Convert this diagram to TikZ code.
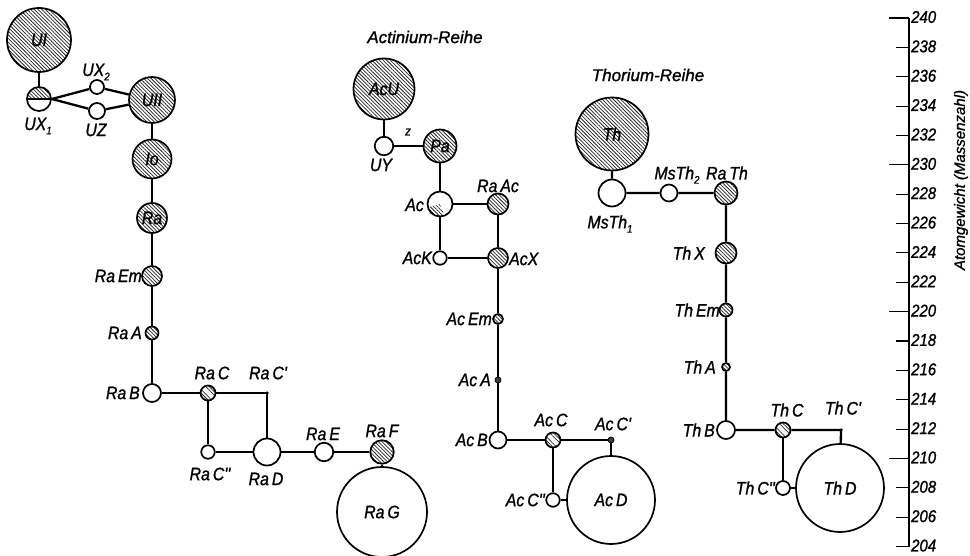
\documentclass[tikz,border=0pt]{standalone}
\usepackage{fontspec}
\newfontfamily\labfont[FakeBold=1.2,FakeStretch=0.88]{Liberation Sans}
\newfontfamily\ttlfont[FakeBold=1.2]{Liberation Sans}
\usetikzlibrary{patterns.meta}
\newcommand\mysub[1]{\raisebox{-0.45ex}{\fontsize{11}{11}\selectfont #1}}
\begin{document}
\begin{tikzpicture}[x=1pt,y=1pt,
  every node/.style={font=\labfont\itshape\fontsize{18}{18}\selectfont, inner sep=0pt},
  hatch/.style={pattern={Lines[angle=-45,distance=2.6pt,line width=0.75pt]}, pattern color=black!85},
  iso/.style={circle, draw, line width=1.7pt, fill=white, minimum size=#1, inner sep=0pt},
  hat/.style={iso=#1, path picture={\fill[hatch] ([shift={(-2,-2)}]path picture bounding box.south west) rectangle ([shift={(2,2)}]path picture bounding box.north east);}},
  stri/.style={iso=#1, path picture={\fill[hatch] ([shift={(-2,-2)}]path picture bounding box.south west) rectangle ([shift={(2,2)}]path picture bounding box.north east);
     \draw[white,line width=1.8pt] (path picture bounding box.north west) -- (path picture bounding box.south east);}},
  half/.style={iso=#1, path picture={\fill[hatch] ([shift={(-2,0)}]path picture bounding box.west) rectangle ([shift={(2,2)}]path picture bounding box.north east);
     \draw[line width=1.3pt] (path picture bounding box.west) -- (path picture bounding box.east);}},
  part/.style={iso=#1, path picture={\fill[hatch] (path picture bounding box.center) -- ++(195:15) arc[start angle=195,end angle=290,radius=15] -- cycle;}},
  dot/.style={circle, draw, line width=0.8pt, fill=black!75, minimum size=#1, inner sep=0pt},
  link/.style={line width=2.3pt},
  ttl/.style={font=\ttlfont\itshape\fontsize{17}{17}\selectfont},
  num/.style={font=\labfont\itshape\fontsize{17}{17}\selectfont, anchor=west}
]
\useasboundingbox (0,0) rectangle (970,-556);

% ---------------- Uran-Radium-Reihe ----------------
\node[hat=64] (UI) at (39,-40) {UI};
\node[half=24] (UX1) at (39,-99) {};
\node[iso=14] (UX2) at (97,-87) {};
\node[iso=16] (UZ) at (97,-111) {};
\node[hat=46] (UII) at (152,-100) {UII};
\node[hat=39] (Io) at (152,-159) {Io};
\node[hat=30] (Ra) at (152,-218) {Ra};
\node[hat=20] (RaEm) at (152,-276) {};
\node[hat=13] (RaA) at (152,-333) {};
\node[iso=18] (RaB) at (152,-393) {};
\node[stri=15] (RaC) at (208,-393) {};
\node[circle, fill=black, minimum size=3.5, inner sep=0pt] (RaCp) at (267,-393) {};
\node[iso=13.5] (RaCpp) at (208,-452) {};
\node[iso=27] (RaD) at (267,-452) {};
\node[iso=18.5] (RaE) at (324,-452) {};
\node[hat=23.5] (RaF) at (382,-452) {};
\node[iso=90] (RaG) at (382,-512) {Ra\,G};

\node (lUX2) at (96,-72) {UX\mysub{2}};
\node (lUX1) at (38,-126) {UX\mysub{1}};
\node (lUZ) at (96,-130) {UZ};
\node[anchor=east] (lRaEm) at (142,-276) {Ra\,Em};
\node[anchor=east] (lRaA) at (142,-333) {Ra\,A};
\node[anchor=east] (lRaB) at (140,-393) {Ra\,B};
\node (lRaC) at (212,-373) {Ra\,C};
\node (lRaCp) at (268,-373) {Ra\,C'};
\node (lRaCpp) at (210,-474) {Ra\,C''};
\node (lRaD) at (266,-479) {Ra\,D};
\node (lRaE) at (323,-434) {Ra\,E};
\node (lRaF) at (382,-431) {Ra\,F};

\draw[link] (UI) -- (UX1);
\draw[link] (UX1.east) -- (UX2) -- (UII);
\draw[link] (UX1.east) -- (UZ) -- (UII);
\draw[link] (UII) -- (Io) -- (Ra) -- (RaEm) -- (RaA) -- (RaB) -- (RaC) -- (RaCp.center) -- (RaD);
\draw[link] (RaC) -- (RaCpp) -- (RaD) -- (RaE) -- (RaF) -- (RaG);

% ---------------- Actinium-Reihe ----------------
\node[ttl] (tAc) at (425,-37) {Actinium-Reihe};
\node[hat=61] (AcU) at (384,-89) {AcU};
\node[iso=18.5] (UY) at (384,-146) {};
\node[hat=33] (Pa) at (440,-146) {Pa};
\node[part=25] (Ac) at (440,-204) {};
\node[hat=21] (RaAc) at (498,-204) {};
\node[iso=13.5] (AcK) at (440,-258) {};
\node[hat=20] (AcX) at (498,-258) {};
\node[hat=10] (AcEm) at (498,-319) {};
\node[dot=6] (AcA) at (498,-380) {};
\node[iso=17] (AcB) at (498,-440) {};
\node[stri=15] (AcC) at (553,-440) {};
\node[dot=6] (AcCp) at (611,-440) {};
\node[iso=13.5] (AcCpp) at (553,-500) {};
\node[iso=88] (AcD) at (611,-500) {Ac\,D};

\node (lUY) at (381,-165) {UY};
\node[font=\labfont\itshape\fontsize{13}{13}\selectfont] (lz) at (408,-132) {z};
\node[anchor=east] (lAc) at (424,-205) {Ac};
\node (lRaAc) at (498,-186) {Ra\,Ac};
\node[anchor=east] (lAcK) at (432,-258) {AcK};
\node[anchor=west] (lAcX) at (509,-259) {AcX};
\node[anchor=east] (lAcEm) at (492,-319) {Ac\,Em};
\node[anchor=east] (lAcA) at (491,-380) {Ac\,A};
\node[anchor=east] (lAcB) at (488,-440) {Ac\,B};
\node (lAcC) at (551,-420) {Ac\,C};
\node (lAcCp) at (613,-424) {Ac\,C'};
\node[anchor=east] (lAcCpp) at (545,-500) {Ac\,C''};

\draw[link] (AcU) -- (UY) -- (Pa) -- (Ac) -- (RaAc) -- (AcX);
\draw[link] (Ac) -- (AcK) -- (AcX) -- (AcEm) -- (AcA) -- (AcB) -- (AcC) -- (AcCp) -- (AcD);
\draw[link] (AcC) -- (AcCpp) -- (AcD);

% ---------------- Thorium-Reihe ----------------
\node[ttl] (tTh) at (648,-75) {Thorium-Reihe};
\node[hat=73] (Th) at (612,-134) {Th};
\node[iso=27] (MsTh1) at (612,-193) {};
\node[iso=17] (MsTh2) at (669,-193) {};
\node[hat=23] (RaTh) at (726,-193) {};
\node[hat=21] (ThX) at (726,-253) {};
\node[hat=13] (ThEm) at (726,-310) {};
\node[hat=8] (ThA) at (726,-367) {};
\node[iso=18] (ThB) at (726,-430) {};
\node[stri=15] (ThC) at (783,-430) {};
\node[circle, fill=black, minimum size=3.5, inner sep=0pt] (ThCp) at (841,-430) {};
\node[iso=14] (ThCpp) at (783,-488) {};
\node[iso=88] (ThD) at (840,-488) {Th\,D};

\node (lMsTh1) at (610,-224) {MsTh\mysub{1}};
\node (lMsTh2) at (677,-175) {MsTh\mysub{2}};
\node (lRaTh) at (727,-173) {Ra\,Th};
\node[anchor=east] (lThX) at (705,-253) {Th\,X};
\node[anchor=east] (lThEm) at (720,-310) {Th\,Em};
\node[anchor=east] (lThA) at (716,-367) {Th\,A};
\node[anchor=east] (lThB) at (715,-430) {Th\,B};
\node (lThC) at (787,-410) {Th\,C};
\node (lThCp) at (843,-408) {Th\,C'};
\node[anchor=east] (lThCpp) at (775,-488) {Th\,C''};

\draw[link] (Th) -- (MsTh1) -- (MsTh2) -- (RaTh) -- (ThX) -- (ThEm) -- (ThA) -- (ThB) -- (ThC) -- (ThCp.center) -- (ThD);
\draw[link] (ThC) -- (ThCpp) -- (ThD);

% ---------------- Achse ----------------
\coordinate (axtop) at (909,-18);
\coordinate (axbot) at (909,-546.6);
\draw[line width=1.4pt] (axtop) -- (axbot);
\foreach \m in {240,238,...,204} {
  \pgfmathsetmacro\yy{-(18+(240-\m)*14.683)}
  \pgfmathsetmacro\tl{ifthenelse(mod(\m,10)==0,20,13)}
  \draw[line width=1.1pt] (909,\yy) -- ++(-\tl,0);
  \node[num] (n\m) at (911,\yy+1) {\m};
}
\node[rotate=90, font=\ttlfont\itshape\fontsize{15}{15}\selectfont] (axtitle) at (961,-180) {Atomgewicht (Massenzahl)};
\end{tikzpicture}
\end{document}
